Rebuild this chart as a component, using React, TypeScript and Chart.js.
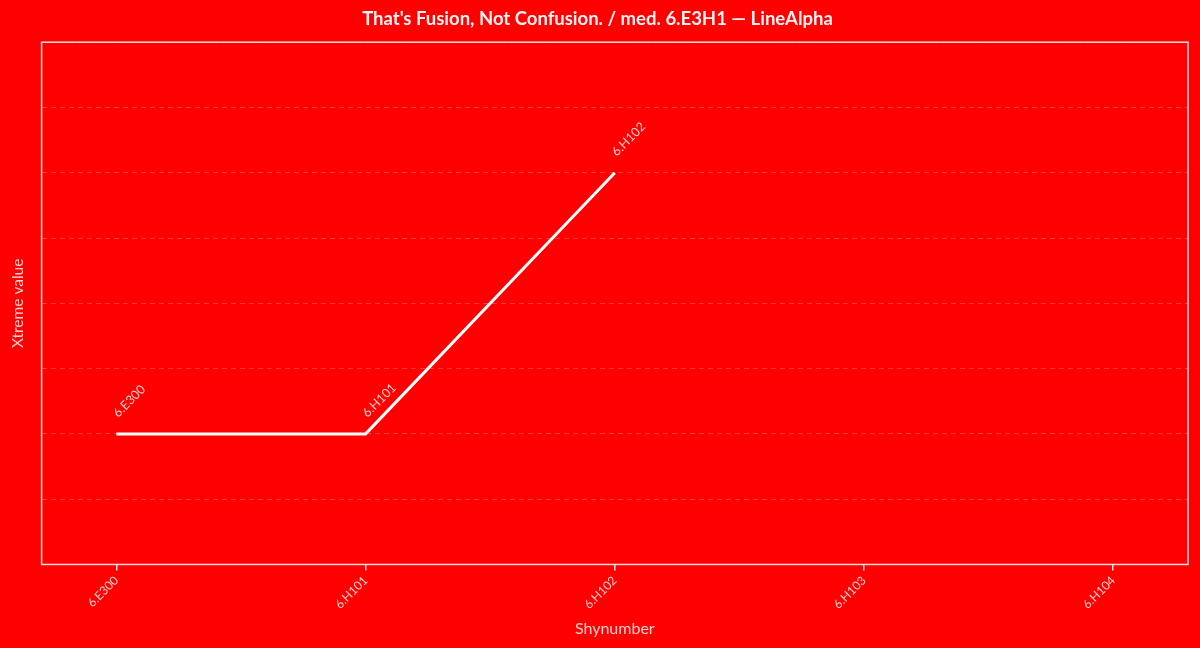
import React, { useEffect, useRef } from "react";
import { Chart, registerables } from "chart.js";

Chart.register(...registerables);

const categories = ["6.E300", "6.H101", "6.H102", "6.H103", "6.H104"];
const pointIndex = [0, 1, 2];
const seriesValues = [2, 2, 6];
const pointLabels = ["6.E300", "6.H101", "6.H102"];

const FONT = "Lato, 'Noto Sans', sans-serif";
const BG = "#ff0000";
const FG = "rgba(255,255,255,0.95)";
const SOFT = "rgba(255,235,235,0.88)";

const framePlugin = {
  id: "frame",
  beforeDraw(chart: any) {
    const ctx = chart.ctx;
    ctx.save();
    ctx.fillStyle = BG;
    ctx.fillRect(0, 0, chart.width, chart.height);
    ctx.restore();
  },
  afterDatasetsDraw(chart: any) {
    const ctx = chart.ctx;
    const a = chart.chartArea;
    ctx.save();
    ctx.strokeStyle = "rgba(255,230,230,0.95)";
    ctx.lineWidth = 1.5;
    ctx.strokeRect(a.left, a.top, a.right - a.left, a.bottom - a.top);
    const meta = chart.getDatasetMeta(0);
    ctx.fillStyle = SOFT;
    ctx.font = `12.5px ${FONT}`;
    ctx.textAlign = "left";
    ctx.textBaseline = "alphabetic";
    meta.data.forEach((pt: any, i: number) => {
      ctx.save();
      ctx.translate(pt.x + 2, pt.y - 16);
      ctx.rotate(-Math.PI / 4);
      ctx.fillText(pointLabels[i], 0, 0);
      ctx.restore();
    });
    ctx.restore();
  },
};

export default function App() {
  const ref = useRef<HTMLCanvasElement | null>(null);
  useEffect(() => {
    document.body.style.margin = "0";
    document.body.style.background = BG;
    const chart = new Chart(ref.current!, {
      type: "line",
      data: {
        datasets: [
          {
            label: "LineAlpha",
            data: pointIndex.map((x, i) => ({ x, y: seriesValues[i] })),
            borderColor: "#ffffff",
            borderWidth: 3,
            pointRadius: 0,
            tension: 0,
            fill: false,
          },
        ],
      },
      options: {
        animation: false,
        responsive: false,
        maintainAspectRatio: false,
        layout: { padding: { left: 7, right: 12, top: 0, bottom: 10 } },
        plugins: {
          legend: { display: false },
          tooltip: { enabled: false },
          title: {
            display: true,
            text: "That's Fusion, Not Confusion. / med. 6.E3H1 — LineAlpha",
            color: FG,
            font: { family: FONT, size: 18.5, weight: "bold" },
            padding: { top: 8, bottom: 12 },
          },
        },
        scales: {
          x: {
            type: "linear",
            min: -0.3,
            max: 4.3,
            afterBuildTicks: (axis: any) => {
              axis.ticks = categories.map((_, i) => ({ value: i }));
            },
            ticks: {
              color: SOFT,
              font: { family: FONT, size: 12 },
              minRotation: 45,
              maxRotation: 45,
              callback: (v: any) => categories[Math.round(Number(v))] ?? "",
            },
            grid: {
              drawOnChartArea: false,
              drawTicks: true,
              tickLength: 6,
              color: "rgba(255,230,230,0.95)",
              lineWidth: 1.5,
            },
            border: { display: false },
            title: {
              display: true,
              text: "Shynumber",
              color: SOFT,
              font: { family: FONT, size: 16 },
              padding: { top: 4, bottom: 0 },
            },
          },
          y: {
            min: 0,
            max: 8,
            ticks: { display: false, stepSize: 1 },
            grid: {
              color: "rgba(255,255,255,0.22)",
              lineWidth: 1,
              drawTicks: false,
            },
            border: { display: false, dash: [5, 4] },
            title: {
              display: true,
              text: "Xtreme value",
              color: SOFT,
              font: { family: FONT, size: 15.5 },
              padding: { top: 2, bottom: 14 },
            },
          },
        },
      },
      plugins: [framePlugin],
    } as any);
    return () => chart.destroy();
  }, []);
  return (
    <div style={{ width: 1200, height: 648, background: BG }}>
      <canvas ref={ref} width={1200} height={648} style={{ display: "block" }} />
    </div>
  );
}
